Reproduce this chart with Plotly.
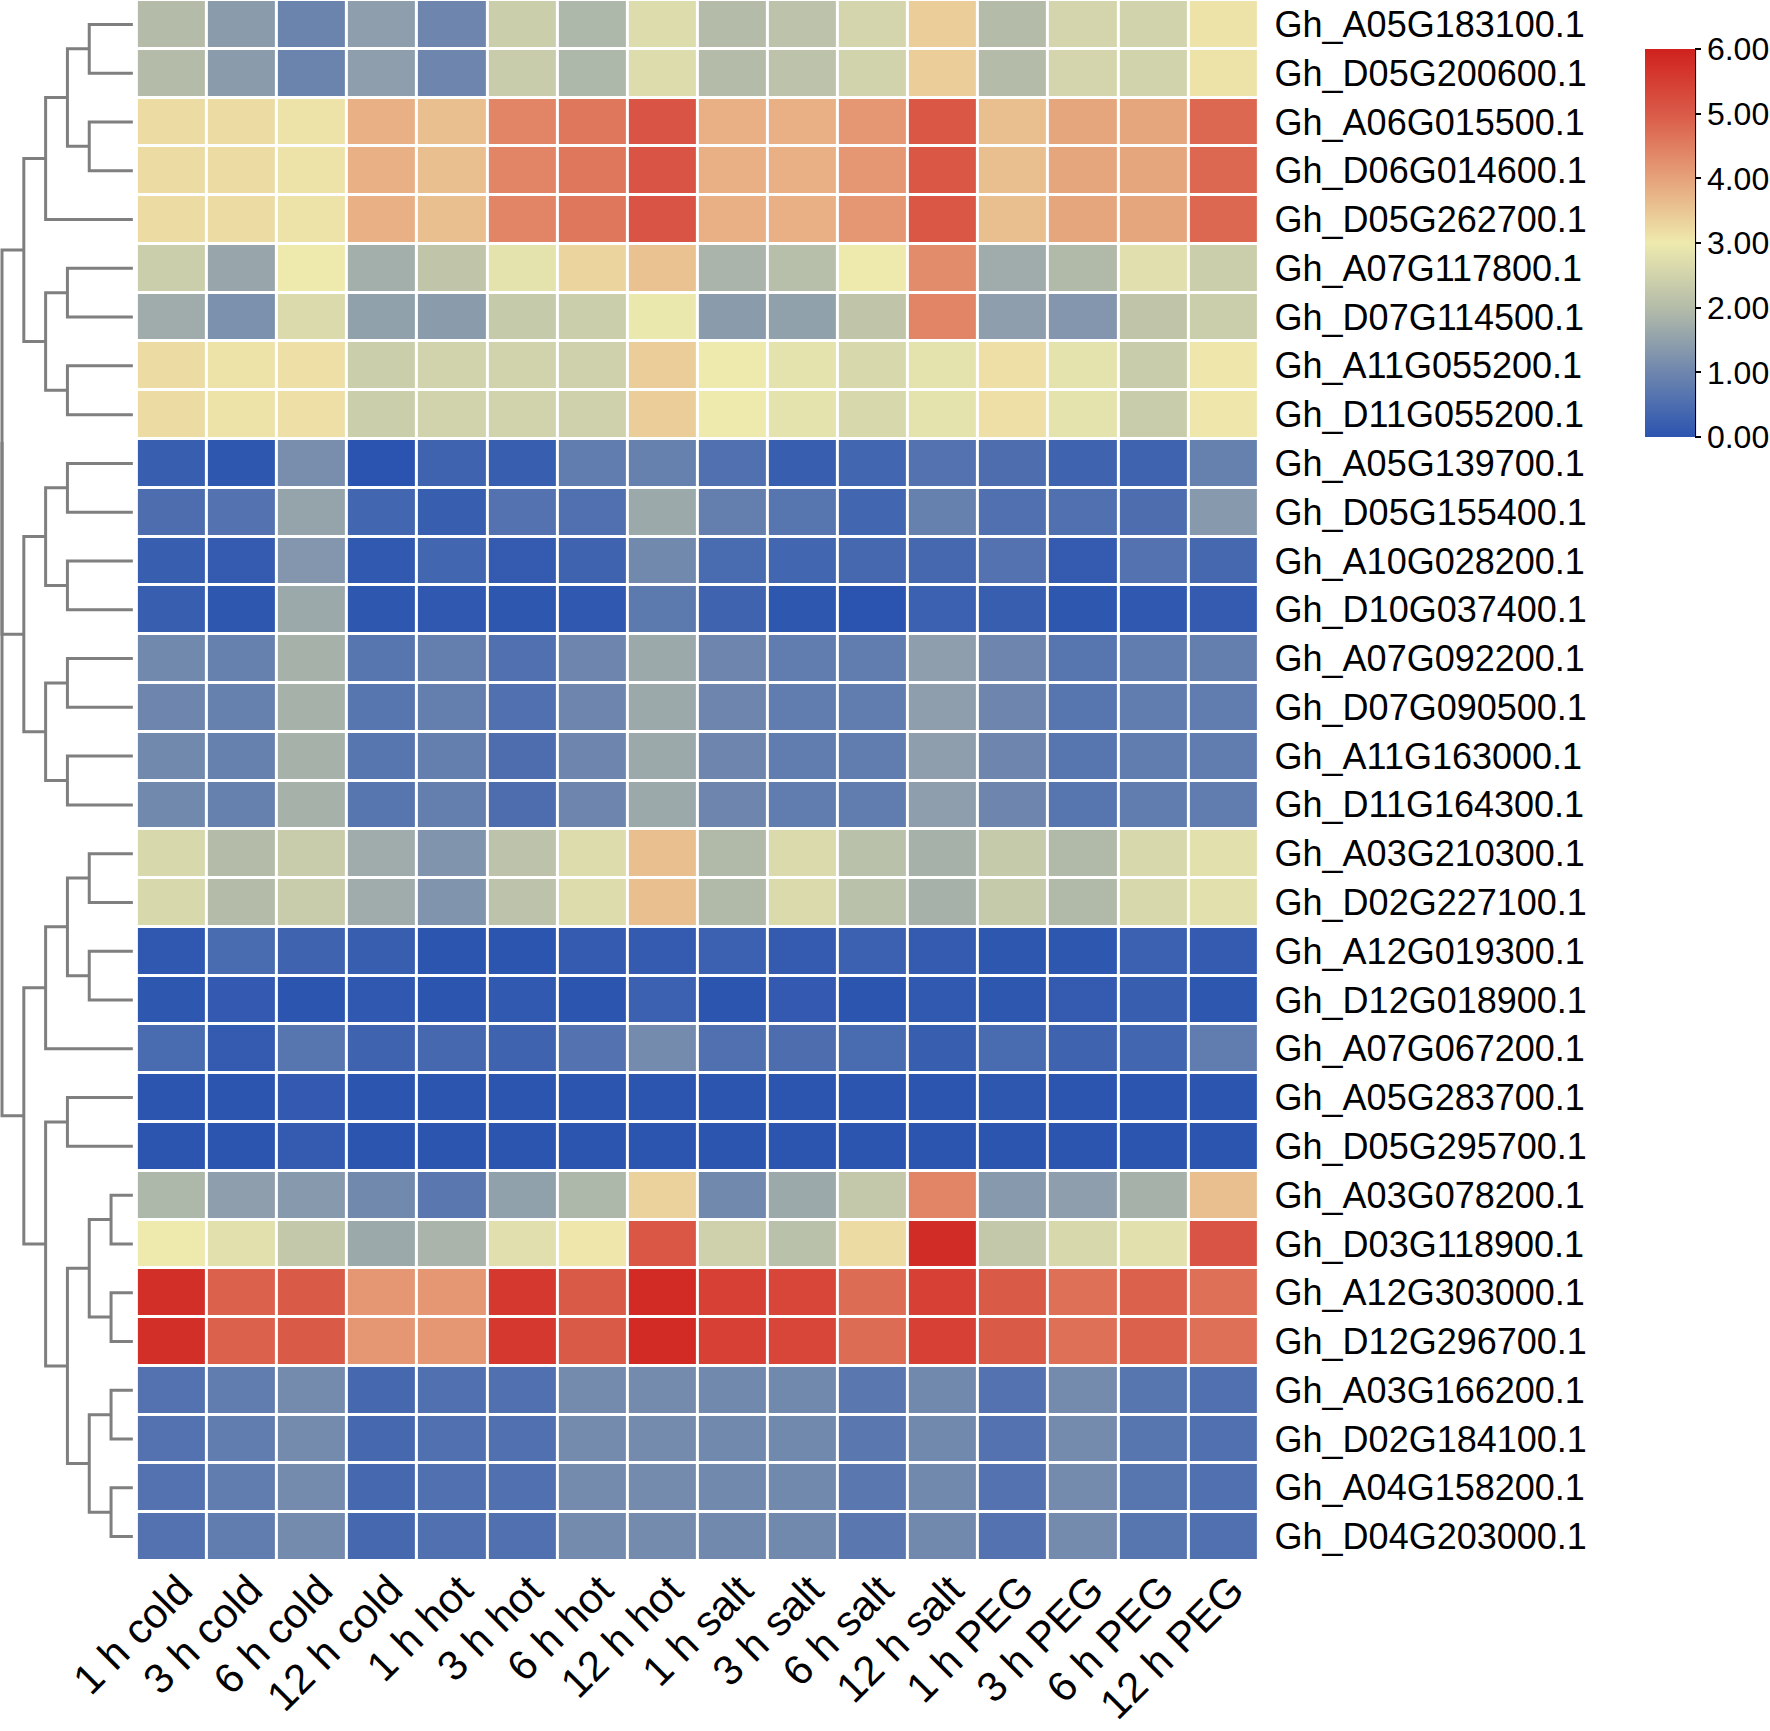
import plotly.graph_objects as go

# Conditions (columns) and genes (rows), in the order drawn
conditions = ['1 h cold', '3 h cold', '6 h cold', '12 h cold',
              '1 h hot', '3 h hot', '6 h hot', '12 h hot',
              '1 h salt', '3 h salt', '6 h salt', '12 h salt',
              '1 h PEG', '3 h PEG', '6 h PEG', '12 h PEG']

genes = ['Gh_A05G183100.1', 'Gh_D05G200600.1', 'Gh_A06G015500.1', 'Gh_D06G014600.1',
         'Gh_D05G262700.1', 'Gh_A07G117800.1', 'Gh_D07G114500.1', 'Gh_A11G055200.1',
         'Gh_D11G055200.1', 'Gh_A05G139700.1', 'Gh_D05G155400.1', 'Gh_A10G028200.1',
         'Gh_D10G037400.1', 'Gh_A07G092200.1', 'Gh_D07G090500.1', 'Gh_A11G163000.1',
         'Gh_D11G164300.1', 'Gh_A03G210300.1', 'Gh_D02G227100.1', 'Gh_A12G019300.1',
         'Gh_D12G018900.1', 'Gh_A07G067200.1', 'Gh_A05G283700.1', 'Gh_D05G295700.1',
         'Gh_A03G078200.1', 'Gh_D03G118900.1', 'Gh_A12G303000.1', 'Gh_D12G296700.1',
         'Gh_A03G166200.1', 'Gh_D02G184100.1', 'Gh_A04G158200.1', 'Gh_D04G203000.1']

# expression values, one list per gene (same order as genes)
expr = [
    [2.0, 1.4, 0.95, 1.45, 1.0, 2.4, 1.9, 2.7, 2.0, 2.15, 2.55, 3.4, 2.0, 2.55, 2.5, 3.1],
    [2.0, 1.4, 0.95, 1.45, 1.0, 2.35, 1.9, 2.7, 2.0, 2.15, 2.5, 3.4, 2.0, 2.55, 2.5, 3.1],
    [3.2, 3.2, 3.1, 3.8, 3.6, 4.4, 4.6, 5.1, 3.8, 3.8, 4.15, 5.05, 3.6, 3.95, 3.95, 4.8],
    [3.2, 3.2, 3.1, 3.8, 3.6, 4.4, 4.6, 5.1, 3.8, 3.8, 4.15, 5.05, 3.6, 3.95, 3.95, 4.8],
    [3.2, 3.2, 3.1, 3.8, 3.6, 4.4, 4.6, 5.1, 3.8, 3.8, 4.15, 5.05, 3.6, 3.95, 3.95, 4.8],
    [2.4, 1.6, 3.0, 1.75, 2.2, 2.85, 3.3, 3.55, 1.85, 2.05, 3.0, 4.3, 1.7, 1.95, 2.75, 2.4],
    [1.7, 1.2, 2.65, 1.5, 1.4, 2.3, 2.4, 2.95, 1.4, 1.5, 2.2, 4.4, 1.45, 1.3, 2.2, 2.4],
    [3.2, 3.1, 3.15, 2.4, 2.5, 2.5, 2.45, 3.4, 3.0, 2.85, 2.6, 2.85, 3.15, 2.85, 2.35, 3.05],
    [3.2, 3.1, 3.15, 2.4, 2.5, 2.5, 2.45, 3.4, 3.0, 2.85, 2.6, 2.85, 3.15, 2.85, 2.35, 3.05],
    [0.2, 0.05, 1.15, 0.0, 0.3, 0.2, 0.8, 0.9, 0.55, 0.2, 0.35, 0.6, 0.5, 0.3, 0.3, 0.9],
    [0.5, 0.6, 1.55, 0.35, 0.2, 0.6, 0.55, 1.65, 0.85, 0.65, 0.35, 0.9, 0.55, 0.55, 0.5, 1.35],
    [0.2, 0.15, 1.3, 0.1, 0.35, 0.15, 0.3, 1.05, 0.45, 0.35, 0.4, 0.4, 0.6, 0.15, 0.6, 0.4],
    [0.2, 0.05, 1.65, 0.05, 0.08, 0.05, 0.08, 0.75, 0.3, 0.05, 0.0, 0.25, 0.2, 0.05, 0.08, 0.15],
    [1.05, 0.9, 1.8, 0.65, 0.85, 0.55, 1.0, 1.65, 1.0, 0.8, 0.8, 1.45, 1.0, 0.65, 0.8, 0.85],
    [1.0, 0.9, 1.8, 0.65, 0.85, 0.55, 1.0, 1.65, 1.0, 0.8, 0.8, 1.45, 1.0, 0.65, 0.8, 0.8],
    [1.05, 0.9, 1.8, 0.65, 0.85, 0.5, 1.0, 1.65, 1.0, 0.8, 0.8, 1.45, 1.0, 0.65, 0.8, 0.8],
    [1.05, 0.9, 1.8, 0.65, 0.85, 0.5, 1.0, 1.65, 1.0, 0.8, 0.8, 1.45, 1.0, 0.65, 0.8, 0.8],
    [2.6, 2.0, 2.35, 1.7, 1.25, 2.15, 2.7, 3.6, 1.95, 2.65, 2.1, 1.8, 2.3, 1.95, 2.6, 2.8],
    [2.6, 2.0, 2.35, 1.7, 1.25, 2.15, 2.7, 3.6, 1.95, 2.65, 2.1, 1.8, 2.3, 1.95, 2.6, 2.8],
    [0.08, 0.45, 0.3, 0.2, 0.02, 0.02, 0.15, 0.15, 0.25, 0.15, 0.25, 0.15, 0.05, 0.05, 0.25, 0.15],
    [0.05, 0.12, 0.02, 0.08, 0.02, 0.1, 0.02, 0.25, 0.02, 0.12, 0.02, 0.1, 0.05, 0.15, 0.2, 0.05],
    [0.45, 0.15, 0.65, 0.3, 0.4, 0.3, 0.6, 1.1, 0.55, 0.5, 0.45, 0.2, 0.45, 0.3, 0.35, 0.8],
    [0.02, 0.02, 0.12, 0.02, 0.02, 0.02, 0.02, 0.02, 0.02, 0.02, 0.02, 0.02, 0.05, 0.02, 0.02, 0.02],
    [0.02, 0.02, 0.15, 0.02, 0.02, 0.02, 0.02, 0.02, 0.02, 0.02, 0.02, 0.02, 0.02, 0.02, 0.02, 0.02],
    [1.9, 1.45, 1.35, 1.05, 0.7, 1.5, 1.9, 3.35, 1.05, 1.65, 2.25, 4.4, 1.35, 1.45, 1.8, 3.6],
    [3.0, 2.8, 2.25, 1.65, 1.85, 2.75, 3.05, 5.05, 2.45, 2.1, 3.2, 5.8, 2.25, 2.6, 2.8, 5.1],
    [5.75, 4.9, 5.0, 4.15, 4.15, 5.6, 5.0, 5.85, 5.45, 5.35, 4.75, 5.45, 5.0, 4.7, 4.9, 4.7],
    [5.75, 4.9, 5.0, 4.15, 4.15, 5.6, 5.0, 5.85, 5.45, 5.35, 4.75, 5.45, 5.0, 4.7, 4.9, 4.7],
    [0.6, 0.8, 1.1, 0.4, 0.55, 0.55, 1.1, 1.1, 1.05, 1.05, 0.7, 1.05, 0.6, 1.1, 0.65, 0.55],
    [0.6, 0.8, 1.1, 0.4, 0.55, 0.55, 1.1, 1.1, 1.05, 1.05, 0.7, 1.05, 0.6, 1.1, 0.65, 0.55],
    [0.6, 0.8, 1.1, 0.4, 0.55, 0.55, 1.1, 1.1, 1.05, 1.05, 0.7, 1.05, 0.6, 1.1, 0.65, 0.55],
    [0.6, 0.8, 1.1, 0.4, 0.55, 0.55, 1.1, 1.1, 1.05, 1.05, 0.7, 1.05, 0.6, 1.1, 0.65, 0.55],
]

# row clustering: (left node, right node, merge level); leaves are 0..31,
# the n-th merge becomes node 32 + n
merges = [
    (0, 1, 2), (2, 3, 2), (32, 33, 3), (34, 4, 4), (5, 6, 3), (7, 8, 3),
    (36, 37, 4), (35, 38, 5),
    (9, 10, 3), (11, 12, 3), (40, 41, 4), (13, 14, 3), (15, 16, 3),
    (43, 44, 4), (42, 45, 5),
    (17, 18, 2), (19, 20, 2), (47, 48, 3), (49, 21, 4), (22, 23, 3),
    (24, 25, 1), (26, 27, 1), (52, 53, 2), (28, 29, 1), (30, 31, 1),
    (55, 56, 2), (54, 57, 3), (51, 58, 4), (50, 59, 5),
    (39, 46, 6), (61, 60, 6),
]

colorscale = [[0.0, '#2b54b0'], [1 / 6, '#6e86ae'], [2 / 6, '#b4bca9'],
              [3 / 6, '#eeeaae'], [4 / 6, '#e6a27a'], [5 / 6, '#da5a48'],
              [1.0, '#d0211e']]

W, H = 1770, 1731
FONT = 'Liberation Sans, Arial, sans-serif'

# walk the merges to get dendrogram segments
pos = {i: float(i) for i in range(len(genes))}
lev = {i: 0 for i in range(len(genes))}
dx, dy = [], []
for n, (a, b, h) in enumerate(merges):
    dx += [lev[a], h, h, lev[b], None]
    dy += [pos[a], pos[a], pos[b], pos[b], None]
    pos[32 + n] = (pos[a] + pos[b]) / 2
    lev[32 + n] = h

fig = go.Figure()
fig.add_trace(go.Heatmap(
    z=expr, x=list(range(len(conditions))), y=list(range(len(genes))),
    zmin=0, zmax=6, colorscale=colorscale, xgap=3, ygap=3,
    colorbar=dict(
        x=1647 / W, xanchor='left', y=1 - 49 / H, yanchor='top',
        len=388 / H, lenmode='fraction', thickness=50, thicknessmode='pixels',
        xpad=0, ypad=0, outlinewidth=0,
        tickvals=[0, 1, 2, 3, 4, 5, 6],
        ticktext=['%.2f' % v for v in range(7)],
        ticks='outside', ticklen=6, tickwidth=2, tickcolor='black',
        tickfont=dict(family=FONT, size=32, color='black'),
    ),
))
fig.add_trace(go.Scatter(
    x=dx, y=dy, xaxis='x2', yaxis='y', mode='lines',
    line=dict(color='#7f7f7f', width=3), hoverinfo='skip', showlegend=False,
))

fig.update_layout(
    template='none',
    width=W, height=H,
    margin=dict(l=0, r=0, t=0, b=0),
    paper_bgcolor='white', plot_bgcolor='white',
    showlegend=False,
    xaxis=dict(
        domain=[137 / W, 1260 / W], anchor='y', range=[-0.5, 15.5],
        tickvals=list(range(len(conditions))), ticktext=conditions,
        tickangle=-45, tickfont=dict(family=FONT, size=42, color='black'),
        ticklabelshift=8, ticklabelstandoff=-5,
        showgrid=False, zeroline=False, showline=False, ticks='',
        automargin=False,
    ),
    yaxis=dict(
        domain=[1 - 1561 / H, 1], anchor='x', side='right', range=[31.5, -0.5],
        tickvals=list(range(len(genes))), ticktext=genes,
        tickfont=dict(family=FONT, size=36, color='black'),
        showgrid=False, zeroline=False, showline=False, ticks='',
        ticklabelstandoff=15, automargin=False,
    ),
    xaxis2=dict(
        domain=[0, 137 / W], anchor='y', range=[6.092, -0.183],
        visible=False, showgrid=False, zeroline=False,
    ),
    shapes=[dict(type='line', xref='paper', yref='paper',
                 x0=1697 / W, x1=1697 / W, y0=1 - 49 / H, y1=1 - 437 / H,
                 line=dict(color='black', width=2))],
)

fig.write_html('out.html', config={'displayModeBar': False},
               post_script="document.body.style.margin='0';document.body.style.overflow='hidden';")
